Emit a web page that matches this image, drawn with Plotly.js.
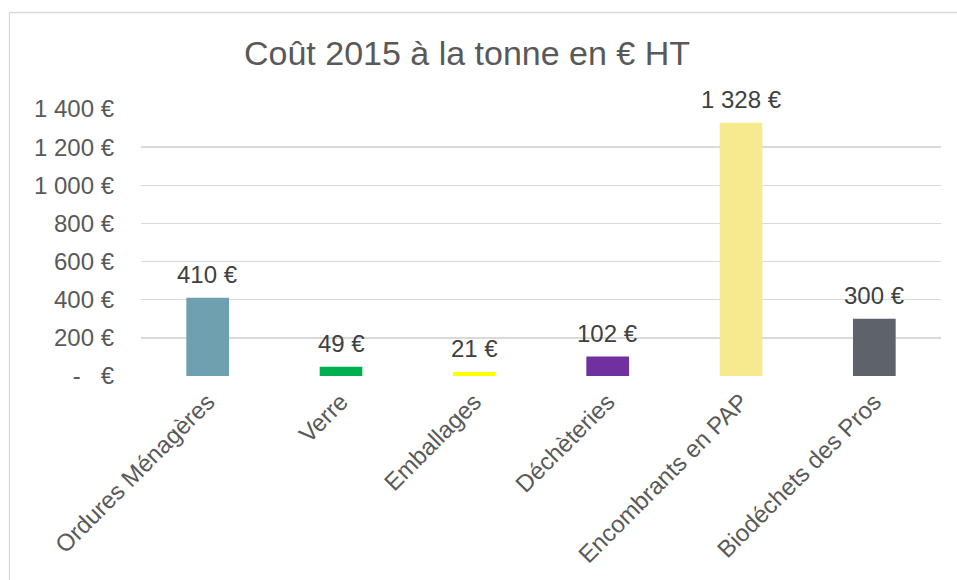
<!DOCTYPE html>
<html>
<head>
<meta charset="utf-8">
<script src="https://cdn.plot.ly/plotly-3.0.1.min.js"></script>
<style>
  html, body { margin: 0; padding: 0; background: #ffffff; }
  #chart { width: 957px; height: 580px; }
</style>
</head>
<body>
<div id="chart"></div>
<script>
// ---- data ----
const categories = ["Ordures Ménagères", "Verre", "Emballages", "Déchèteries", "Encombrants en PAP", "Biodéchets des Pros"];
const costs = [410, 49, 21, 102, 1328, 300];
const costLabels = ["410 €", "49 €", "21 €", "102 €", "1\u00a0328 €", "300 €"];
const barColors = ["#6FA0AF", "#00B050", "#FFFF00", "#7030A0", "#F7E98E", "#5E626A"];
const yTickValues = [0, 200, 400, 600, 800, 1000, 1200, 1400];
const yTickLabels = ["-\u00a0\u00a0\u00a0€", "200 €", "400 €", "600 €", "800 €", "1\u00a0000 €", "1\u00a0200 €", "1\u00a0400 €"];

const FONT = "Liberation Sans, Arial, sans-serif";

const trace = {
  type: "bar",
  x: categories,
  y: costs,
  width: 0.32,
  marker: { color: barColors },
  hoverinfo: "skip"
};

const annotations = categories.map((c, i) => ({
  x: c,
  y: costs[i],
  xref: "x",
  yref: "y",
  text: costLabels[i],
  showarrow: false,
  yanchor: "bottom",
  yshift: 8,
  font: { family: FONT, size: 24, color: "#404040" }
}));

const BX = (9.5 - 141) / 800;
const BY = (376 - 12.5) / 267;

const layout = {
  width: 957,
  height: 580,
  margin: { l: 141, r: 16, t: 109, b: 204, pad: 0 },
  paper_bgcolor: "#ffffff",
  plot_bgcolor: "#ffffff",
  showlegend: false,
  font: { family: FONT, color: "#595959", size: 24 },
  title: {
    text: "Coût 2015 à la tonne en € HT",
    xref: "container",
    yref: "container",
    x: 467 / 957,
    xanchor: "center",
    y: 1 - 53 / 580,
    yanchor: "middle",
    font: { family: FONT, size: 34, color: "#595959" }
  },
  xaxis: {
    type: "category",
    tickangle: -45,
    showgrid: false,
    showline: false,
    zeroline: false,
    ticks: "",
    ticklabelstandoff: 6,
    tickfont: { family: FONT, size: 24, color: "#595959" }
  },
  yaxis: {
    range: [0, 1400],
    tickmode: "array",
    tickvals: yTickValues,
    ticktext: yTickLabels,
    showgrid: true,
    gridcolor: "#d9d9d9",
    gridwidth: 1.5,
    zeroline: false,
    showline: false,
    ticks: "",
    ticklabelstandoff: 26,
    tickfont: { family: FONT, size: 24, color: "#595959" }
  },
  annotations: annotations,
  shapes: [
    { type: "line", xref: "paper", yref: "paper", x0: BX, x1: 1.2, y0: BY, y1: BY, line: { color: "#d9d9d9", width: 1.3 } },
    { type: "line", xref: "paper", yref: "paper", x0: BX, x1: BX, y0: -1, y1: BY, line: { color: "#d9d9d9", width: 1.3 } }
  ]
};

Plotly.newPlot("chart", [trace], layout, { displayModeBar: false, staticPlot: true });
</script>
</body>
</html>
